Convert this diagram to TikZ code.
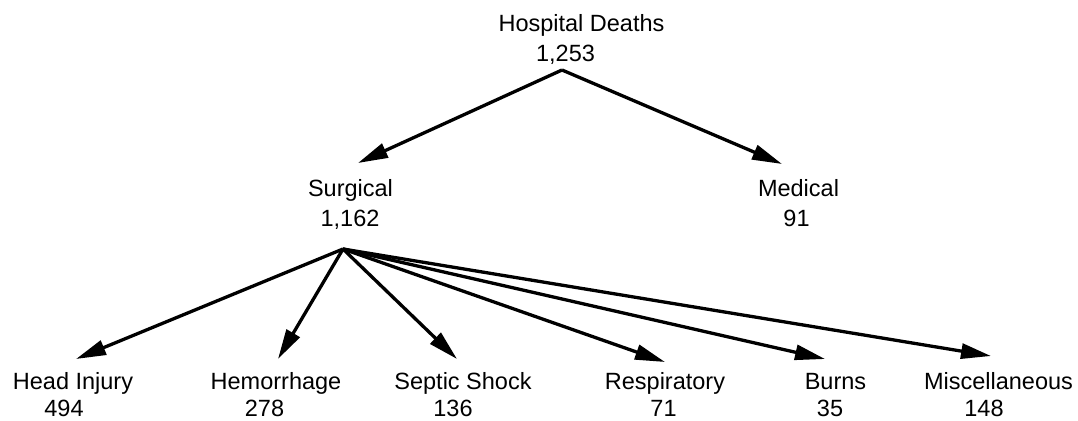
\documentclass[tikz,border=0pt]{standalone}
\usepackage{fontspec}
\setmainfont{Liberation Sans}
\usetikzlibrary{arrows.meta}
\begin{document}
\begin{tikzpicture}[x=1pt,y=-1pt,
  lbl/.style={anchor=base,inner sep=0pt,font=\fontsize{23.5}{28}\selectfont},
  conn/.style={line width=3.3pt,-{Triangle[length=30pt,width=15pt]}}]
\useasboundingbox (0,0) rectangle (1078,420);
% labels
\node[lbl] (hd) at (581.5,32) {Hospital Deaths};
\node[lbl] (hdn) at (565.5,61) {1,253};
\node[lbl] (sur) at (350.5,196) {Surgical};
\node[lbl] (surn) at (350,226) {1,162};
\node[lbl] (med) at (798.5,196) {Medical};
\node[lbl] (medn) at (796.5,226) {91};
\node[lbl] (hi) at (73,389) {Head Injury};
\node[lbl] (hin) at (64,416) {494};
\node[lbl] (hem) at (276,389) {Hemorrhage};
\node[lbl] (hemn) at (264.5,416) {278};
\node[lbl] (ss) at (463,389) {Septic Shock};
\node[lbl] (ssn) at (453,416) {136};
\node[lbl] (res) at (665,389) {Respiratory};
\node[lbl] (resn) at (663.5,416) {71};
\node[lbl] (bur) at (835.5,389) {Burns};
\node[lbl] (burn) at (830,416) {35};
\node[lbl] (mis) at (998.5,389) {Miscellaneous};
\node[lbl] (misn) at (984,416) {148};
% connector end points
\coordinate (top) at (562,70);
\coordinate (surIn) at (358,163);
\coordinate (medIn) at (782,164);
\coordinate (fan) at (343,249);
\coordinate (hiIn) at (76,359);
\coordinate (hemIn) at (278,359);
\coordinate (ssIn) at (457,359);
\coordinate (resIn) at (665,362);
\coordinate (burIn) at (825,359);
\coordinate (misIn) at (991,356);
% connectors
\draw[conn] (top) -- (surIn);
\draw[conn] (top) -- (medIn);
\draw[conn] (fan) -- (hiIn);
\draw[conn] (fan) -- (hemIn);
\draw[conn] (fan) -- (ssIn);
\draw[conn] (fan) -- (resIn);
\draw[conn] (fan) -- (burIn);
\draw[conn] (fan) -- (misIn);
\end{tikzpicture}
\end{document}
